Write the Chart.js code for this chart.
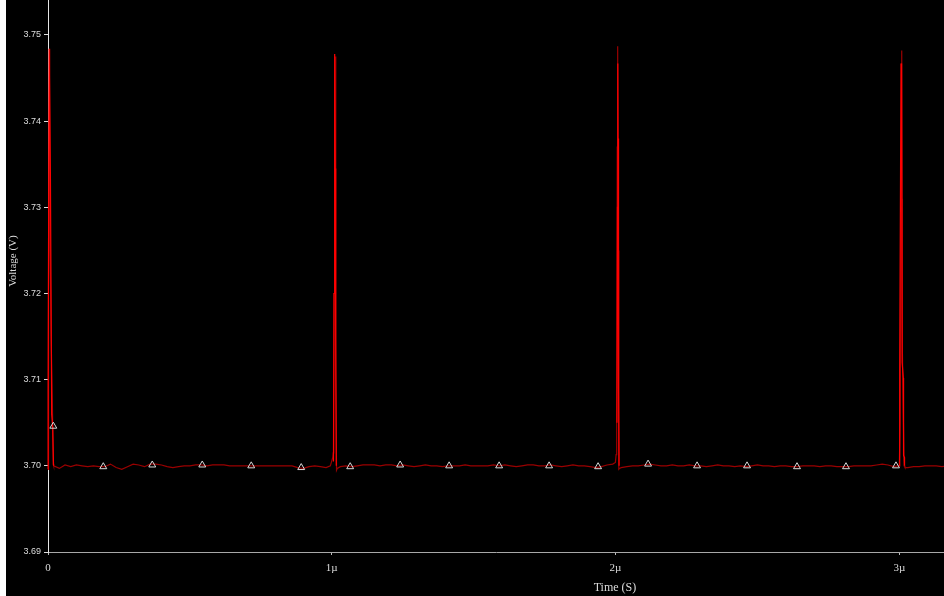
<!DOCTYPE html>
<html>
<head>
<meta charset="utf-8">
<title>Voltage vs Time</title>
<script src="https://cdn.jsdelivr.net/npm/chart.js@4/dist/chart.umd.min.js"></script>
<style>
  html, body { margin: 0; padding: 0; background: #000; }
  #wrap { width: 944px; height: 596px; }
  canvas { display: block; background: #000; }
</style>
</head>
<body>
<div id="wrap"><canvas id="chart" width="944" height="596"></canvas></div>
<script>
// Time in microseconds, voltage in volts.

// Dark red trace: settled output with the switching spikes.
const darkTime = [
  0.0000, 0.0020, 0.0060, 0.0075, 0.0110, 0.0150, 0.0185,
  0.02, 0.04, 0.06, 0.08, 0.10, 0.12, 0.14, 0.16, 0.18, 0.20,
  0.22, 0.24, 0.26, 0.28, 0.30, 0.32, 0.34, 0.36, 0.38, 0.40,
  0.42, 0.44, 0.46, 0.48, 0.50, 0.52, 0.54, 0.56, 0.58, 0.60,
  0.62, 0.64, 0.66, 0.68, 0.70, 0.72, 0.74, 0.76, 0.78, 0.80,
  0.82, 0.84, 0.86, 0.88, 0.90, 0.92, 0.94, 0.96, 0.98, 0.995,
  1.0038, 1.0053, 1.0068, 1.0083, 1.0101, 1.0118, 1.0135, 1.0148, 1.0168, 1.0193,
  1.03, 1.05, 1.07, 1.09, 1.11, 1.13, 1.15, 1.17, 1.19, 1.21,
  1.23, 1.25, 1.27, 1.29, 1.31, 1.33, 1.35, 1.37, 1.39, 1.41,
  1.43, 1.45, 1.47, 1.49, 1.51, 1.53, 1.55, 1.57, 1.59, 1.61,
  1.63, 1.65, 1.67, 1.69, 1.71, 1.73, 1.75, 1.77, 1.79, 1.81,
  1.83, 1.85, 1.87, 1.89, 1.91, 1.93, 1.95, 1.97, 1.99,
  1.9995, 2.0020, 2.0040, 2.0060, 2.0075, 2.0095, 2.0110, 2.0120, 2.0145,
  2.02, 2.04, 2.06, 2.08, 2.10, 2.12, 2.14, 2.16, 2.18, 2.20,
  2.22, 2.24, 2.26, 2.28, 2.30, 2.32, 2.34, 2.36, 2.38, 2.40,
  2.42, 2.44, 2.46, 2.48, 2.50, 2.52, 2.54, 2.56, 2.58, 2.60,
  2.62, 2.64, 2.66, 2.68, 2.70, 2.72, 2.74, 2.76, 2.78, 2.80,
  2.82, 2.84, 2.86, 2.88, 2.90, 2.92, 2.94, 2.96, 2.98, 2.995,
  3.0000, 3.0030, 3.0065, 3.0085, 3.0100, 3.0110, 3.0140, 3.0170, 3.0200,
  3.03, 3.05, 3.07, 3.09, 3.11, 3.13, 3.15, 3.17
];
const darkVolt = [
  3.6996, 3.7200, 3.7484, 3.7250, 3.7150, 3.7080, 3.7002,
  3.7000, 3.6997, 3.7001, 3.6999, 3.7001, 3.7000, 3.6999, 3.7000, 3.6999, 3.6999,
  3.7002, 3.6998, 3.6996, 3.6999, 3.7002, 3.7001, 3.6999, 3.7002, 3.7002, 3.7001,
  3.6999, 3.6998, 3.6999, 3.7000, 3.7000, 3.7001, 3.7001, 3.7000, 3.7001, 3.7001,
  3.7001, 3.7000, 3.7000, 3.7000, 3.7000, 3.7000, 3.7000, 3.7000, 3.7000, 3.7000,
  3.7000, 3.7000, 3.7000, 3.6998, 3.6997, 3.6999, 3.7000, 3.6999, 3.6998, 3.7000,
  3.7010, 3.7015, 3.7058, 3.7200, 3.7440, 3.7475, 3.7225, 3.7105, 3.6995, 3.6997,
  3.6999, 3.7000, 3.6999, 3.7000, 3.7001, 3.7001, 3.7001, 3.7000, 3.7001, 3.7001,
  3.7000, 3.7001, 3.7000, 3.6999, 3.7000, 3.7001, 3.7000, 3.7000, 3.6999, 3.7000,
  3.7000, 3.7000, 3.7001, 3.7000, 3.7000, 3.7000, 3.7000, 3.7001, 3.7000, 3.7001,
  3.7000, 3.6999, 3.7000, 3.7001, 3.7001, 3.7000, 3.7000, 3.7001, 3.7000, 3.6999,
  3.7000, 3.7001, 3.7000, 3.7000, 3.6999, 3.6998, 3.6999, 3.7001, 3.7002,
  3.7004, 3.7013, 3.7040, 3.7370, 3.7487, 3.7250, 3.7100, 3.6996, 3.6997,
  3.6998, 3.6999, 3.7000, 3.7000, 3.7001, 3.7002, 3.7001, 3.7000, 3.7000, 3.7001,
  3.7000, 3.7000, 3.7001, 3.7000, 3.7000, 3.6999, 3.7000, 3.7001, 3.7000, 3.7000,
  3.6999, 3.7000, 3.6999, 3.7000, 3.7001, 3.7000, 3.7000, 3.6999, 3.7000, 3.7000,
  3.6999, 3.6999, 3.7000, 3.7000, 3.7000, 3.6999, 3.7000, 3.7000, 3.6999, 3.6999,
  3.6999, 3.7000, 3.7000, 3.7000, 3.7000, 3.7001, 3.7002, 3.7001, 3.6999, 3.7000,
  3.7000, 3.7050, 3.7300, 3.7482, 3.7310, 3.7130, 3.7060, 3.7000, 3.6998,
  3.6998, 3.6999, 3.6999, 3.7000, 3.7000, 3.7000, 3.6999, 3.7000
];

// Bright red trace: only differs from the dark one around each spike.
const brightTime = [
  0.0000, 0.0004, 0.0040, 0.0085, 0.0130, 0.0165, 0.0195, 0.0200,
  1.0060, 1.0080, 1.0095, 1.0110, 1.0122, 1.0138, 1.0160, 1.0165,
  2.0050, 2.0068, 2.0080, 2.0088, 2.0100, 2.0112, 2.0125, 2.0130,
  3.0005, 3.0014, 3.0060, 3.0080, 3.0100, 3.0141, 3.0150, 3.0176, 3.0185
];
const brightVolt = [
  3.6996, 3.7085, 3.7484, 3.7338, 3.7060, 3.7045, 3.7000, null,
  3.7005, 3.7200, 3.7380, 3.7478, 3.7345, 3.7150, 3.7000, null,
  3.7050, 3.7300, 3.7467, 3.7380, 3.7240, 3.7090, 3.7000, null,
  3.7000, 3.7111, 3.7467, 3.7460, 3.7120, 3.7102, 3.7012, 3.7010, 3.7000
];

// Trace markers (triangles)
const markerTime = [
  0.0187, 0.1948, 0.3674, 0.5436, 0.7162, 0.8923, 1.0649, 1.2410, 1.4136,
  1.5898, 1.7659, 1.9385, 2.1147, 2.2873, 2.4634, 2.6395, 2.8121, 2.9883
];
const markerVolt = [
  3.7046, 3.6999, 3.7001, 3.7001, 3.7000, 3.6998, 3.6999, 3.7001, 3.7000,
  3.7000, 3.7000, 3.6999, 3.7002, 3.7000, 3.7000, 3.6999, 3.6999, 3.7000
];

// Axis ticks
const xTickValues = [0, 1, 2, 3];
const xTickLabels = ['0', '1\u00b5', '2\u00b5', '3\u00b5'];
const yTickValues = [3.69, 3.70, 3.71, 3.72, 3.73, 3.74, 3.75];

const xTitle = 'Time (S)';
const yTitle = 'Voltage (V)';

const toPoints = (ts, vs) => ts.map((t, i) => ({ x: t, y: vs[i] }));

const frame = {
  id: 'frame',
  afterDraw(chart) {
    const ctx = chart.ctx;
    ctx.save();
    // light strip along the left edge of the window
    ctx.fillStyle = '#ffffff';
    ctx.fillRect(0, 0, 6, chart.height);
    // axis titles
    ctx.fillStyle = '#dcdcdc';
    ctx.font = '12px "Liberation Serif", "Times New Roman", serif';
    ctx.textAlign = 'center';
    ctx.textBaseline = 'middle';
    ctx.fillText(xTitle, 615, 588);
    ctx.translate(13, 261);
    ctx.rotate(-Math.PI / 2);
    ctx.font = '11px "Liberation Serif", "Times New Roman", serif';
    ctx.fillText(yTitle, 0, 0);
    ctx.restore();
  }
};

new Chart(document.getElementById('chart'), {
  type: 'line',
  data: {
    datasets: [
      {
        label: 'markers',
        data: toPoints(markerTime, markerVolt),
        showLine: false,
        pointStyle: 'triangle',
        pointRadius: 4,
        pointBorderColor: '#d8d8d8',
        pointBackgroundColor: 'rgba(0,0,0,0)',
        pointBorderWidth: 1,
        order: 0
      },
      {
        label: 'bright',
        data: toPoints(brightTime, brightVolt),
        borderColor: '#ff0000',
        borderWidth: 1.2,
        pointRadius: 0,
        tension: 0,
        spanGaps: false,
        clip: { left: 3, top: 0, right: 0, bottom: 0 },
        order: 1
      },
      {
        label: 'dark',
        data: toPoints(darkTime, darkVolt),
        borderColor: '#9a0000',
        borderWidth: 1.2,
        pointRadius: 0,
        tension: 0,
        clip: { left: 3, top: 0, right: 0, bottom: 0 },
        order: 2
      }
    ]
  },
  options: {
    responsive: false,
    animation: false,
    devicePixelRatio: 1,
    layout: { padding: 0, autoPadding: false },
    plugins: {
      legend: { display: false },
      tooltip: { enabled: false }
    },
    scales: {
      x: {
        type: 'linear',
        position: 'bottom',
        min: 0,
        max: 3.1575,
        afterBuildTicks: (s) => { s.ticks = xTickValues.map(v => ({ value: v })); },
        afterFit: (s) => { s.height = 44; s.paddingLeft = 0; s.paddingRight = 0; },
        ticks: {
          autoSkip: false,
          maxRotation: 0,
          padding: 7,
          color: '#dcdcdc',
          font: { family: '"Liberation Serif", "Times New Roman", serif', size: 11 },
          callback: (v) => xTickLabels[xTickValues.indexOf(v)]
        },
        grid: { drawOnChartArea: false, drawTicks: true, tickLength: 3, color: '#bbbbbb' },
        border: { color: '#a8a8a8', width: 1 }
      },
      y: {
        type: 'linear',
        position: 'left',
        min: 3.69,
        max: 3.75406,
        afterBuildTicks: (s) => { s.ticks = yTickValues.map(v => ({ value: v })); },
        afterFit: (s) => { s.width = 48; s.paddingTop = 0; s.paddingBottom = 0; },
        ticks: {
          autoSkip: false,
          padding: 3,
          color: '#dcdcdc',
          font: { family: '"Liberation Sans", Arial, sans-serif', size: 9 },
          callback: (v) => Number(v).toFixed(2)
        },
        grid: { drawOnChartArea: false, drawTicks: true, tickLength: 4, color: '#dddddd' },
        border: { color: '#e6e6e6', width: 1 }
      }
    }
  },
  plugins: [frame]
});
</script>
</body>
</html>
